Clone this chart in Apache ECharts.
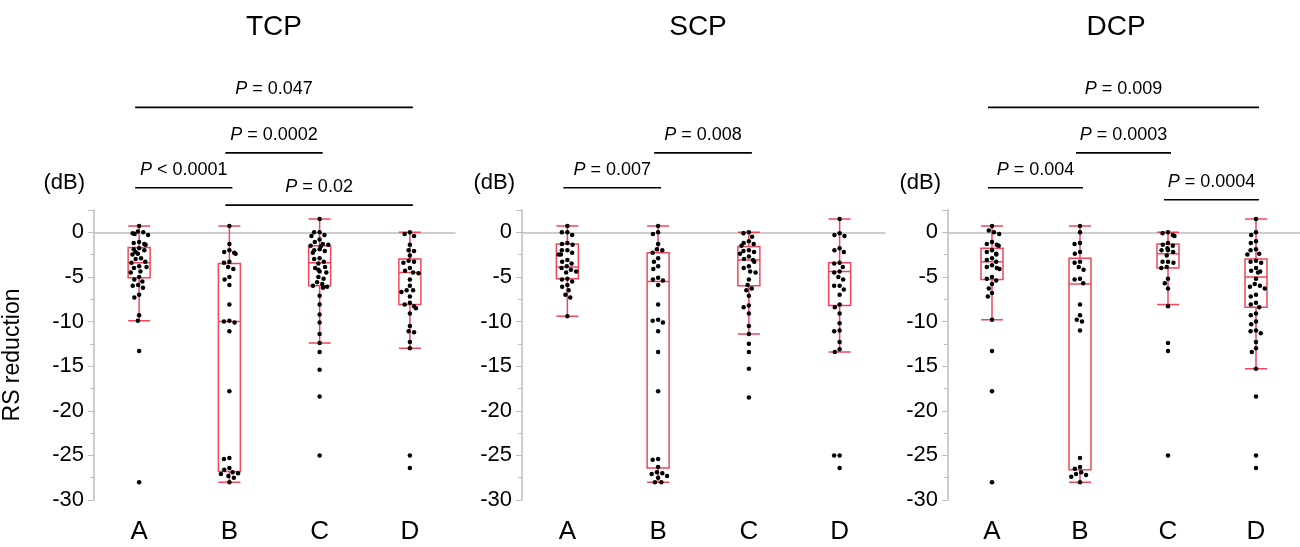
<!DOCTYPE html>
<html>
<head>
<meta charset="utf-8">
<title>RS reduction</title>
<script src="https://cdn.jsdelivr.net/npm/echarts@6.0.0/dist/echarts.min.js"></script>
<style>
  html, body { margin: 0; padding: 0; background: #fff; }
  #chart { width: 1300px; height: 547px; }
</style>
</head>
<body>
<div id="chart"></div>
<script>
  const groups = ['A', 'B', 'C', 'D'];
  const panelTitles = ['TCP', 'SCP', 'DCP'];

  // raw points per group (dB)
  const tcpA = [0.7, 0.1, 0.0, -0.1, -0.2, -0.3, -1.1, -1.2, -1.3, -1.4, -1.8, -1.9, -2.0, -2.2, -2.4, -2.5, -2.9, -3.0, -3.3, -3.4, -3.8, -3.9, -4.0, -4.4, -4.5, -5.0, -5.3, -5.5, -5.9, -6.0, -6.2, -7.0, -7.3, -9.3, -9.9, -13.3, -28.0];
  const tcpB = [0.7, -1.3, -2.0, -2.2, -2.3, -2.4, -3.3, -3.4, -3.9, -4.1, -5.0, -5.3, -5.9, -8.1, -9.9, -10.0, -10.1, -11.1, -17.8, -25.3, -25.4, -26.4, -26.6, -26.9, -27.0, -27.1, -27.3, -27.5, -28.0];
  const tcpC = [1.5, 0.0, 0.0, -0.3, -0.4, -0.8, -1.1, -1.3, -1.4, -1.5, -1.6, -1.9, -2.0, -2.1, -2.3, -2.9, -3.0, -3.3, -3.5, -3.9, -4.0, -4.2, -4.4, -4.5, -5.0, -5.2, -5.6, -5.8, -6.0, -6.1, -6.2, -7.1, -8.1, -9.2, -10.1, -11.4, -12.4, -13.4, -15.4, -18.4, -25.0];
  const tcpD = [0.0, -0.2, -0.4, -1.4, -2.0, -2.1, -2.6, -3.2, -3.3, -3.4, -4.0, -4.3, -4.5, -4.6, -5.3, -6.0, -6.5, -6.5, -6.7, -7.2, -7.9, -8.1, -8.3, -8.5, -9.1, -10.5, -11.1, -11.2, -12.3, -13.0, -25.0, -26.4];

  const scpA = [0.7, 0.0, 0.0, -0.3, -1.2, -1.3, -1.4, -2.0, -2.0, -2.3, -2.5, -2.5, -3.1, -3.3, -3.5, -3.8, -4.0, -4.2, -4.4, -4.5, -5.2, -5.3, -5.5, -5.9, -6.1, -6.5, -7.0, -7.3, -9.4];
  const scpB = [0.7, 0.0, -0.2, -1.3, -1.9, -2.0, -2.3, -2.9, -3.3, -3.8, -4.1, -5.1, -5.3, -5.4, -5.9, -8.1, -9.8, -9.9, -10.1, -11.1, -13.4, -17.8, -25.4, -25.5, -26.3, -26.9, -27.0, -27.1, -27.3, -27.5, -28.0, -28.0];
  const scpC = [0.0, -0.1, -0.5, -1.0, -1.2, -1.3, -1.5, -2.0, -2.1, -2.2, -2.4, -2.7, -3.0, -3.1, -3.3, -3.8, -4.0, -4.4, -4.5, -5.3, -5.9, -6.3, -6.5, -7.1, -8.2, -8.4, -9.1, -10.5, -11.4, -12.5, -13.4, -15.3, -18.5];
  const scpD = [1.5, -0.1, -0.3, -0.4, -1.8, -2.0, -2.2, -3.4, -3.5, -3.9, -4.4, -4.5, -5.0, -5.3, -6.0, -6.0, -6.4, -7.0, -8.1, -8.4, -9.1, -10.2, -11.0, -11.1, -12.3, -13.1, -13.4, -25.0, -25.0, -26.4];

  const dcpA = [0.7, 0.2, 0.0, -0.2, -1.1, -1.3, -1.4, -1.5, -2.0, -2.2, -2.4, -2.5, -2.9, -3.1, -3.3, -3.7, -3.9, -4.0, -4.1, -5.0, -5.2, -5.4, -5.8, -6.3, -6.8, -7.2, -9.8, -13.3, -17.8, -28.0];
  const dcpB = [0.7, 0.0, -1.2, -1.3, -2.2, -2.4, -3.3, -3.4, -3.9, -4.2, -5.2, -5.3, -5.7, -8.1, -9.3, -9.8, -10.0, -11.0, -25.3, -26.3, -26.5, -26.9, -27.1, -27.2, -27.4, -28.0];
  const dcpC = [0.0, -0.1, -0.3, -0.4, -1.2, -1.4, -1.5, -1.8, -2.0, -2.0, -2.2, -2.6, -3.3, -3.3, -3.4, -3.9, -4.0, -5.2, -5.7, -6.3, -8.3, -12.4, -13.3, -25.0];
  const dcpD = [1.5, 0.0, -0.3, -1.0, -1.2, -1.9, -2.0, -2.4, -2.5, -3.2, -3.3, -3.4, -4.0, -4.3, -4.4, -4.5, -5.2, -5.8, -6.0, -6.1, -6.3, -7.0, -7.2, -7.9, -8.1, -8.4, -9.1, -9.3, -10.0, -10.3, -11.0, -11.1, -11.3, -12.3, -13.0, -13.4, -15.3, -18.4, -25.0, -26.4];

  // box stats [lower whisker, Q1, median, Q3, upper whisker]
  const tcpBox = [[-9.9, -5.1, -3.4, -1.7, 0.7], [-28.0, -26.8, -10.0, -3.5, 0.7], [-12.4, -6.0, -3.4, -1.5, 1.5], [-13.0, -8.1, -4.5, -3.0, 0.0]];
  const scpBox = [[-9.4, -5.2, -3.9, -1.3, 0.7], [-28.0, -26.4, -5.5, -2.3, 0.7], [-11.4, -6.0, -3.1, -1.6, 0.0], [-13.4, -8.2, -4.4, -3.4, 1.5]];
  const dcpBox = [[-9.8, -5.3, -3.3, -1.8, 0.7], [-28.0, -26.6, -5.8, -2.9, 0.7], [-8.1, -4.0, -2.4, -1.3, 0.0], [-15.3, -8.4, -5.0, -3.0, 1.5]];

  // significance brackets [from group, to group, height (dB units), label]
  const tcpBrackets = [[0, 3, 14.0, '= 0.047'], [1, 2, 8.9, '= 0.0002'], [0, 1, 5.0, '< 0.0001'], [1, 3, 3.05, '= 0.02']];
  const scpBrackets = [[0, 1, 5.0, '= 0.007'], [1, 2, 8.9, '= 0.008']];
  const dcpBrackets = [[0, 3, 14.0, '= 0.009'], [1, 2, 8.9, '= 0.0003'], [0, 1, 5.0, '= 0.004'], [2, 3, 3.65, '= 0.0004']];

  const panels = [
    { points: [tcpA, tcpB, tcpC, tcpD], box: tcpBox, brackets: tcpBrackets },
    { points: [scpA, scpB, scpC, scpD], box: scpBox, brackets: scpBrackets },
    { points: [dcpA, dcpB, dcpC, dcpD], box: dcpBox, brackets: dcpBrackets },
  ];

  const FONT = '"Liberation Sans", Arial, Helvetica, sans-serif';
  const RED = '#f2475b';
  const AXIS_GREY = '#bdbdbd';
  const gridLefts = [92, 522, 948];
  const titleX = [274, 698, 1116];

  const chart = echarts.init(document.getElementById('chart'));

  const grid = [], xAxis = [], yAxis = [], series = [], graphic = [];

  panels.forEach((p, i) => {
    grid.push({ left: gridLefts[i], top: 210, width: 363, height: 290 });

    xAxis.push({
      type: 'category',
      gridIndex: i,
      data: groups,
      boundaryGap: true,
      jitter: 18,
      jitterOverlap: false,
      jitterMargin: 1,
      axisLine: { lineStyle: { color: AXIS_GREY, width: 1.5 } },
      axisTick: { show: true, alignWithLabel: true, length: 3, lineStyle: { color: '#e0e0e0' } },
      axisLabel: { color: '#000', fontSize: 26, fontFamily: FONT, margin: 19 },
      splitLine: { show: false },
    });

    yAxis.push({
      type: 'value',
      gridIndex: i,
      min: -30,
      max: 2.5,
      interval: 5,
      name: i === 0 ? 'RS reduction' : '',
      nameLocation: 'middle',
      nameRotate: 90,
      nameGap: 70,
      nameTextStyle: { color: '#000', fontSize: 23, fontFamily: FONT },
      axisLine: { show: true, lineStyle: { color: AXIS_GREY, width: 1.5 } },
      axisTick: { show: true, length: 6, lineStyle: { color: AXIS_GREY } },
      minorTick: { show: true, splitNumber: 2, length: 4, lineStyle: { color: AXIS_GREY } },
      axisLabel: { color: '#000', fontSize: 22, fontFamily: FONT, margin: 10, showMaxLabel: false },
      splitLine: { show: false },
    });

    series.push({
      type: 'boxplot',
      xAxisIndex: i,
      yAxisIndex: i,
      data: p.box,
      boxWidth: [22, 22],
      itemStyle: { color: 'rgba(255,255,255,0)', borderColor: RED, borderWidth: 1.5 },
      silent: true,
    });

    series.push({
      type: 'scatter',
      xAxisIndex: i,
      yAxisIndex: i,
      data: p.points.flatMap((vals, g) => vals.map(v => [g, v])),
      symbolSize: 4.5,
      itemStyle: { color: '#000', opacity: 1 },
      silent: true,
    });

    series.push({
      type: 'custom',
      xAxisIndex: i,
      yAxisIndex: i,
      clip: false,
      silent: true,
      data: p.brackets.map(b => [b[0], b[1], b[2]]),
      encode: { x: [0, 1], y: 2 },
      renderItem: (params, api) => {
        const b = p.brackets[params.dataIndex];
        const p1 = api.coord([api.value(0), api.value(2)]);
        const p2 = api.coord([api.value(1), api.value(2)]);
        const x1 = p1[0] - 4, x2 = p2[0] + 3, y = p1[1];
        return {
          type: 'group',
          children: [
            { type: 'line', shape: { x1, y1: y, x2, y2: y }, style: { stroke: '#000', lineWidth: 1.6 } },
            {
              type: 'text',
              style: {
                x: (x1 + x2) / 2,
                y: y - 18,
                text: '{i|P} ' + b[3],
                rich: { i: { fontStyle: 'italic', fontSize: 18, fontFamily: FONT, fill: '#000' } },
                fontSize: 18,
                fontFamily: FONT,
                fill: '#000',
                align: 'center',
                verticalAlign: 'middle',
              },
            },
          ],
        };
      },
    });

    graphic.push({
      type: 'text',
      x: titleX[i],
      y: 27,
      style: { text: panelTitles[i], fontSize: 28, fontFamily: FONT, fill: '#000', align: 'center', verticalAlign: 'middle' },
    });
    graphic.push({
      type: 'text',
      x: gridLefts[i] - 7,
      y: 183,
      style: { text: '(dB)', fontSize: 22, fontFamily: FONT, fill: '#000', align: 'right', verticalAlign: 'middle' },
    });
  });

  chart.setOption({
    animation: false,
    backgroundColor: '#fff',
    grid,
    xAxis,
    yAxis,
    series,
    graphic,
  });

  window.addEventListener('resize', () => chart.resize());
</script>
</body>
</html>
